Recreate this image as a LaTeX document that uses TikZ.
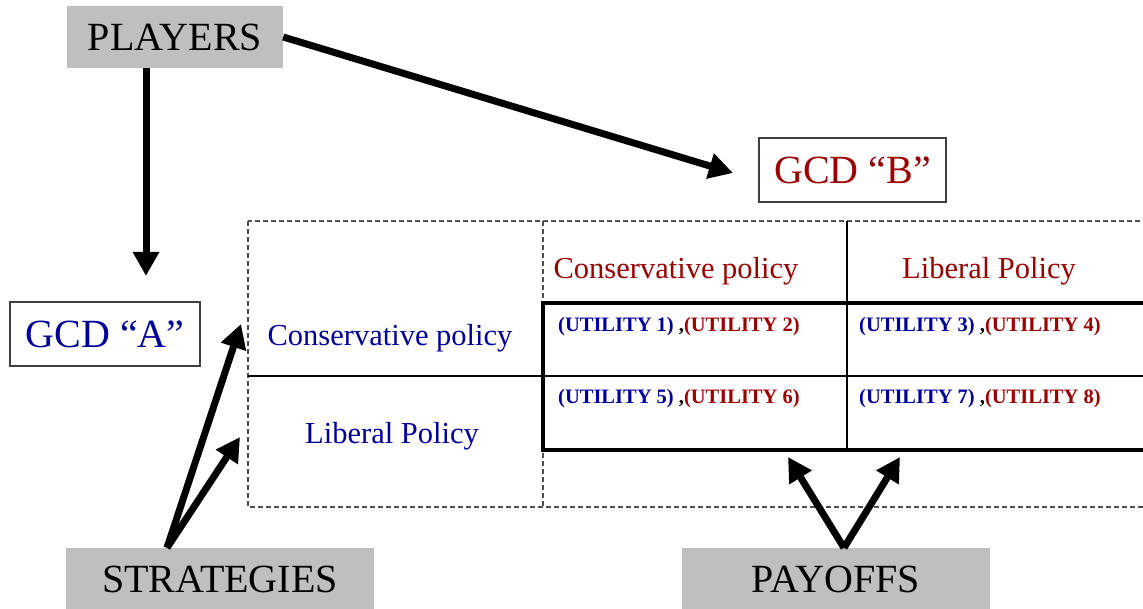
\documentclass[tikz,border=0pt]{standalone}
\usepackage{fontspec}
\setmainfont{Liberation Serif}
\usetikzlibrary{arrows.meta}

\definecolor{gcdblue}{RGB}{0,0,153}
\definecolor{gcdred}{RGB}{153,0,0}
\definecolor{tagfill}{RGB}{191,191,191}
\definecolor{dashgray}{RGB}{80,80,80}

\tikzset{
  tag/.style={fill=tagfill, inner sep=0pt, font=\fontsize{40}{48}\selectfont, text=black},
  gcdbox/.style={draw=black!75, line width=1.4pt, inner sep=0pt, font=\fontsize{40}{48}\selectfont},
  policy/.style={inner sep=0pt, font=\fontsize{30.5}{36}\selectfont},
  utility/.style={inner sep=0pt, anchor=base west, font=\fontsize{20.5}{24}\selectfont\bfseries},
  bigarrow/.style={line width=7pt, -{Triangle[length=24pt,width=25pt]}},
  thinrule/.style={line width=1.3pt},
  thickrule/.style={line width=4pt},
  dashrule/.style={draw=dashgray, line width=1.2pt, dash pattern=on 5pt off 3pt},
}

\begin{document}
\begin{tikzpicture}[x=1pt,y=-1pt]
  \useasboundingbox (0,0) rectangle (1143,609);
  \clip (0,0) rectangle (1143,609);

  % labels of the game
  \node[tag, minimum width=216pt, minimum height=62pt] (players) at (175,37) {PLAYERS};
  \node[tag, minimum width=308pt, minimum height=62pt] (strategies) at (220,579) {STRATEGIES};
  \node[tag, minimum width=308pt, minimum height=62pt] (payoffs) at (836,579) {PAYOFFS};
  \node[gcdbox, text=gcdblue, minimum width=190pt, minimum height=64pt] (gcdA) at (105,334) {GCD “A”};
  \node[gcdbox, text=gcdred, minimum width=187pt, minimum height=64pt] (gcdB) at (852.5,170) {GCD “B”};

  % dashed frame of the normal form
  \draw[dashrule] (248,221) rectangle (1160,507);
  \draw[dashrule] (543,221) -- (543,507);

  % thin dividers
  \draw[thinrule] (248,376) -- (1160,376);
  \draw[thinrule] (847,221) -- (847,450);

  % payoff matrix
  \draw[thickrule] (1160,303) -- (543,303) -- (543,450) -- (1160,450);

  % strategy headings
  \node[policy, text=gcdred, anchor=base] (hdrCons) at (676,279) {Conservative policy};
  \node[policy, text=gcdred, anchor=base] (hdrLib) at (989,279) {Liberal Policy};
  \node[policy, text=gcdblue, anchor=base] (rowCons) at (390,346) {Conservative policy};
  \node[policy, text=gcdblue, anchor=base] (rowLib) at (392,443) {Liberal Policy};

  % payoffs
  \node[utility] (u12) at (558,332) {\textcolor{gcdblue}{(UTILITY 1)} ,\textcolor{gcdred}{(UTILITY 2)}};
  \node[utility] (u34) at (859,332) {\textcolor{gcdblue}{(UTILITY 3)} ,\textcolor{gcdred}{(UTILITY 4)}};
  \node[utility] (u56) at (558,403) {\textcolor{gcdblue}{(UTILITY 5)} ,\textcolor{gcdred}{(UTILITY 6)}};
  \node[utility] (u78) at (859,403) {\textcolor{gcdblue}{(UTILITY 7)} ,\textcolor{gcdred}{(UTILITY 8)}};

  % arrow ends
  \coordinate (tipA) at (146,276);
  \coordinate (tipB) at (733,173);
  \coordinate (tipS1) at (241,324);
  \coordinate (tipS2) at (240,437);
  \coordinate (tipP1) at (788,457);
  \coordinate (tipP2) at (900,457);

  % connectors
  \draw[bigarrow] (players.south -| tipA) -- (tipA);
  \draw[bigarrow] (players.east) -- (tipB);
  \draw[bigarrow] ([xshift=-53pt]strategies.north) -- (tipS1);
  \draw[bigarrow] ([xshift=-53pt]strategies.north) -- (tipS2);
  \draw[bigarrow] ([xshift=8pt]payoffs.north) -- (tipP1);
  \draw[bigarrow] ([xshift=8pt]payoffs.north) -- (tipP2);
\end{tikzpicture}
\end{document}
